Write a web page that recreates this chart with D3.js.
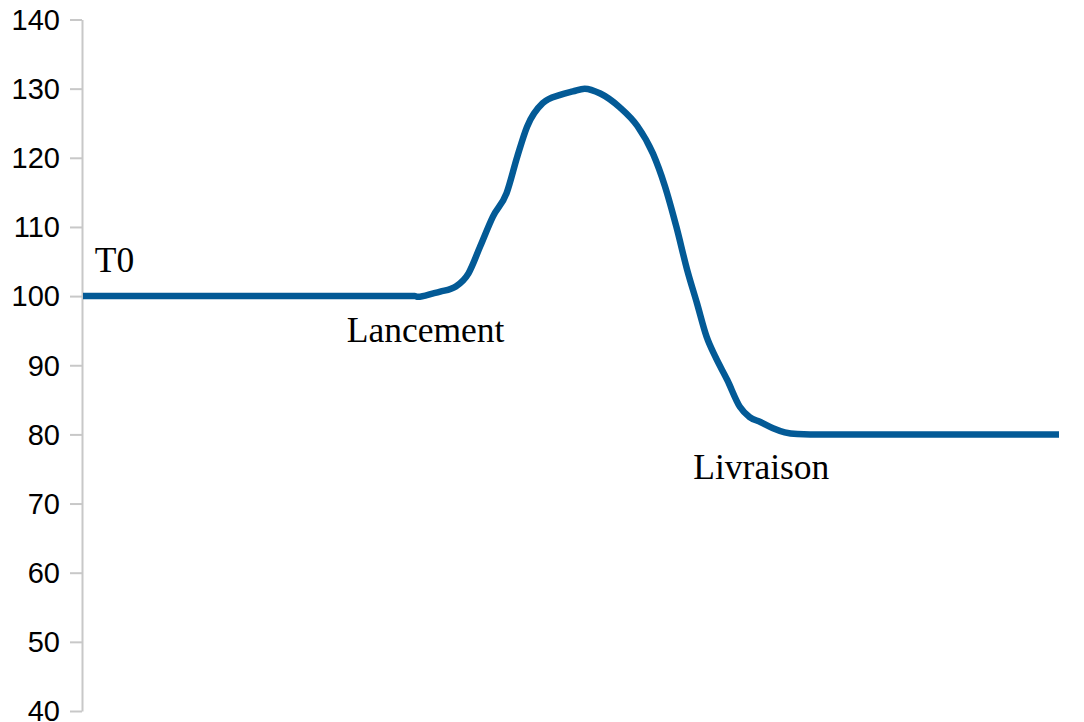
<!DOCTYPE html>
<html>
<head>
<meta charset="utf-8">
<script src="https://cdn.jsdelivr.net/npm/d3@7"></script>
<style>
  html, body { margin: 0; padding: 0; background: #fff; }
  #chart svg { display: block; }
  .axis text { font-family: "Liberation Sans", Arial, sans-serif; font-size: 29px; fill: #000; }
  .axis path, .axis line { stroke: #c8c8c8; stroke-width: 2; }
  .note { font-family: "Liberation Serif", "Times New Roman", serif; font-size: 35.5px; fill: #000; }
</style>
</head>
<body>
<div id="chart"></div>
<script>
// curve points (x in arbitrary time units, y = index)
const xValues = [0, 34.0, 34.3, 35.9, 36.6, 38.2, 39.5, 40.7, 42.0, 43.4, 44.5, 45.5, 47.1, 48.9,
                 50.2, 51.4, 53.0, 55.0, 56.8, 58.4, 59.6, 60.8, 61.9, 62.9, 63.9, 64.8, 66.0,
                 67.3, 68.3, 69.4, 70.7, 71.9, 73.2, 74.5, 100];
const yValues = [100, 100, 99.9, 100.4, 100.65, 101.4, 103.3, 107.2, 111.5, 114.9, 120.2, 124.5, 127.9, 129.1,
                 129.6, 130, 129.3, 127.3, 124.6, 120.6, 116, 110, 103.8, 99, 94.1, 91.2, 87.9,
                 84, 82.5, 81.8, 80.9, 80.3, 80.05, 80, 80];
const yTicks = [40, 50, 60, 70, 80, 90, 100, 110, 120, 130, 140];
// annotations in data coordinates
const noteText = ["T0", "Lancement", "Livraison"];
const noteX = [1.2, 35.1, 69.5];
const noteY = [103.5, 93.3, 73.5];
const noteAnchor = ["start", "middle", "middle"];

let width = 1084, height = 722;
let svg = d3.select("#chart").append("svg")
    .attr("width", width)
    .attr("height", height);

let x = d3.scaleLinear().domain([0, 100]).range([83, 1059]);
let y = d3.scaleLinear().domain([40, 140]).range([711, 19.5]);

// y axis
svg.append("g")
    .attr("class", "axis")
    .attr("transform", "translate(82,0)")
    .call(d3.axisLeft(y).tickValues(yTicks).tickSize(12).tickSizeOuter(0).tickPadding(10))
    .call(g => g.selectAll("text").attr("dy", "0.34em"));

let points = xValues.map((d, i) => ({x: d, y: yValues[i]}));

let line = d3.line()
    .x(d => x(d.x))
    .y(d => y(d.y))
    .curve(d3.curveMonotoneX);

svg.append("path")
    .datum(points)
    .attr("fill", "none")
    .attr("stroke", "#035a96")
    .attr("stroke-width", 6.5)
    .attr("d", line);

svg.selectAll(".note")
    .data(noteText)
    .enter()
      .append("text")
      .attr("class", "note")
      .attr("x", (d, i) => x(noteX[i]))
      .attr("y", (d, i) => y(noteY[i]))
      .attr("text-anchor", (d, i) => noteAnchor[i])
      .text(d => d);
</script>
</body>
</html>
